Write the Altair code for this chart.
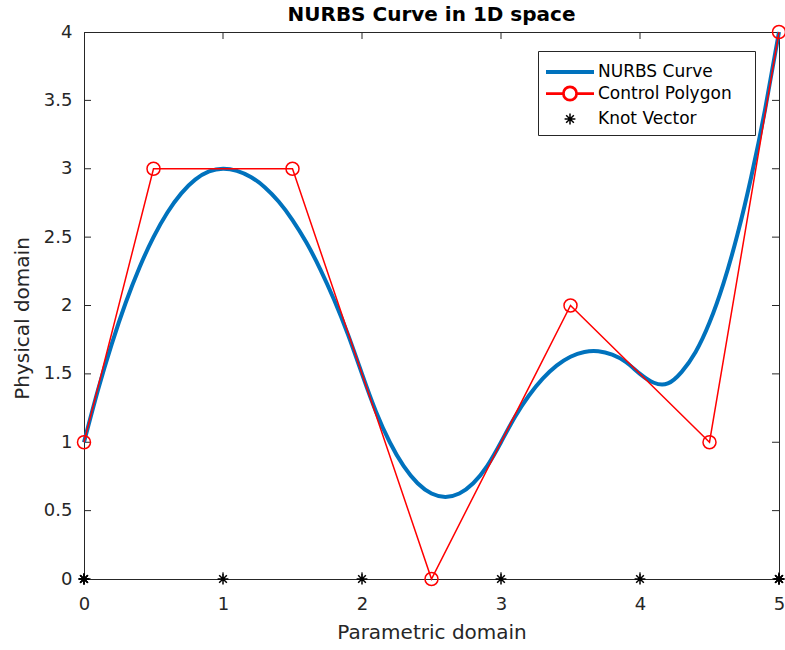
import altair as alt
import pandas as pd

# ---------------- data ----------------
title_text = "NURBS Curve in 1D space"
x_title = "Parametric domain"
y_title = "Physical domain"

series_names = ["NURBS Curve", "Control Polygon", "Knot Vector"]
series_colors = ["#0072BD", "#FF0000", "#000000"]
series_widths = [4, 1.5, 1]

curve_x = [0.0, 0.1, 0.2, 0.3, 0.4, 0.5, 0.6, 0.7, 0.8, 0.9, 1.0,
           1.1, 1.2, 1.3, 1.4, 1.5, 1.6, 1.7, 1.8, 1.9, 2.0,
           2.1, 2.2, 2.3, 2.4, 2.5, 2.6, 2.7, 2.8, 2.9, 3.0,
           3.1, 3.2, 3.3, 3.4, 3.5, 3.6, 3.7, 3.8, 3.9, 4.0,
           4.1, 4.2, 4.3, 4.4, 4.5, 4.6, 4.7, 4.8, 4.9, 5.0]
curve_y = [1.0, 1.38, 1.72, 2.02, 2.28, 2.5, 2.68, 2.82, 2.92, 2.98, 3.0,
           2.985, 2.94, 2.865, 2.76, 2.625, 2.46, 2.265, 2.04, 1.785, 1.5,
           1.225, 1.0, 0.825, 0.7, 0.625, 0.6, 0.625, 0.7, 0.825, 1.0,
           1.185, 1.34, 1.465, 1.56, 1.625, 1.66, 1.665, 1.64, 1.585, 1.5,
           1.435, 1.43, 1.515, 1.66, 1.875, 2.16, 2.515, 2.94, 3.435, 4.0]

ctrl_x = [0, 0.5, 1.5, 2.5, 3.5, 4.5, 5]
ctrl_y = [1, 3, 3, 0, 2, 1, 4]

knot_x = [0, 0, 0, 1, 2, 3, 4, 5, 5, 5]
knot_y = [0, 0, 0, 0, 0, 0, 0, 0, 0, 0]

x_domain = [0, 5]
y_domain = [0, 4]
x_ticks = [0, 1, 2, 3, 4, 5]
y_ticks = [0, 0.5, 1, 1.5, 2, 2.5, 3, 3.5, 4]

# ---------------- frames ----------------
curve_df = pd.DataFrame({"x": curve_x, "y": curve_y, "series": series_names[0]})
ctrl_df = pd.DataFrame({"x": ctrl_x, "y": ctrl_y, "series": series_names[1]})
knot_df = pd.DataFrame({"x": knot_x, "y": knot_y, "series": series_names[2]})
xt_df = pd.DataFrame({"x": x_ticks})
yt_df = pd.DataFrame({"y": y_ticks})

FONT = "DejaVu Sans"
AX = "#262626"

xs = alt.Scale(domain=x_domain, nice=False, zero=False)
ys = alt.Scale(domain=y_domain, nice=False, zero=False)

xaxis = alt.Axis(values=x_ticks, format="~g", ticks=False, tickSize=0, grid=False,
                 labelFlush=False,
                 domainColor=AX, domainWidth=1, labelColor=AX, labelFont=FONT,
                 labelFontSize=18, labelPadding=30, labelBaseline="alphabetic",
                 title=x_title, titleFont=FONT, titleFontSize=20, titleFontWeight="normal",
                 titleColor=AX, titleBaseline="alphabetic", titleY=59)
yaxis = alt.Axis(values=y_ticks, format="~g", ticks=False, tickSize=0, grid=False,
                 labelFlush=False,
                 domainColor=AX, domainWidth=1, labelColor=AX, labelFont=FONT,
                 labelFontSize=18, labelPadding=12,
                 title=y_title, titleFont=FONT, titleFontSize=20, titleFontWeight="normal",
                 titleColor=AX, titleBaseline="alphabetic", titleX=-56, titleY=286)

# legend / marker symbol paths (unit square, scaled by Vega)
line_path = "M-2,0L2,0"
ctrl_path = ("M-2,0L-0.55,0M0.55,0L2,0M0.55,0A0.55,0.55,0,1,1,-0.55,0"
             "A0.55,0.55,0,1,1,0.55,0")
star_path = ("M0,-0.45L0,0.45M-0.45,0L0.45,0M-0.32,-0.32L0.32,0.32"
             "M-0.32,0.32L0.32,-0.32")

legend = alt.Legend(
    title=None, orient="none", legendX=454, legendY=19,
    strokeColor=AX, fillColor="white", padding=7, cornerRadius=0,
    symbolSize=576, symbolOffset=11, labelOffset=14, rowPadding=0,
    symbolOpacity=1, symbolFillColor="transparent", labelLimit=300,
    labelFont=FONT, labelFontSize=17, labelColor="#000000",
    labelExpr="datum.label + '" + "\u00a0" * 3 + "\u200b'",
)

color_enc = alt.Color("series:N", scale=alt.Scale(domain=series_names, range=series_colors),
                      legend=legend)
shape_leg = alt.Shape("series:N", scale=alt.Scale(domain=series_names,
                                                  range=[line_path, ctrl_path, star_path]),
                      legend=legend)
width_leg = alt.StrokeWidth("series:N", scale=alt.Scale(domain=series_names, range=series_widths),
                            legend=legend)

X = alt.X("x:Q", scale=xs, axis=xaxis)
Y = alt.Y("y:Q", scale=ys, axis=yaxis)

curve = alt.Chart(curve_df).mark_line(strokeWidth=4, interpolate="natural").encode(
    x=X, y=Y, color=color_enc)
ctrl_line = alt.Chart(ctrl_df).mark_line(strokeWidth=1.5).encode(x=X, y=Y, color=color_enc)
ctrl_pts = alt.Chart(ctrl_df).mark_point(shape="circle", size=169, filled=False,
                                         strokeWidth=1.5, opacity=1).encode(
    x=X, y=Y, color=color_enc)
knots = alt.Chart(knot_df).mark_point(size=576, filled=False, opacity=1).encode(
    x=X, y=Y, color=color_enc, shape=shape_leg, strokeWidth=width_leg)

tick_style = dict(size=14, thickness=1, clip=True, color=AX, opacity=1)
tb = alt.Chart(xt_df).mark_tick(orient="vertical", **tick_style).encode(
    x=X, y=alt.YDatum(y_domain[0], scale=ys, axis=yaxis))
tt = alt.Chart(xt_df).mark_tick(orient="vertical", **tick_style).encode(
    x=X, y=alt.YDatum(y_domain[1], scale=ys, axis=yaxis))
tl = alt.Chart(yt_df).mark_tick(orient="horizontal", **tick_style).encode(
    y=Y, x=alt.XDatum(x_domain[0], scale=xs, axis=xaxis))
tr = alt.Chart(yt_df).mark_tick(orient="horizontal", **tick_style).encode(
    y=Y, x=alt.XDatum(x_domain[1], scale=xs, axis=xaxis))

chart = alt.layer(tb, tt, tl, tr, curve, ctrl_line, ctrl_pts, knots).properties(
    width=695, height=547,
    title=alt.Title(title_text, font=FONT, fontSize=20, fontWeight="bold",
                    color="#000000", anchor="middle", offset=8, dy=10),
    padding={"left": 84, "top": 32, "right": 6, "bottom": 71},
    autosize=alt.AutoSizeParams(type="none"),
    background="white",
).configure_view(stroke=AX, strokeWidth=1)

chart.save("out.html", embed_options={"renderer": "svg", "actions": False})
